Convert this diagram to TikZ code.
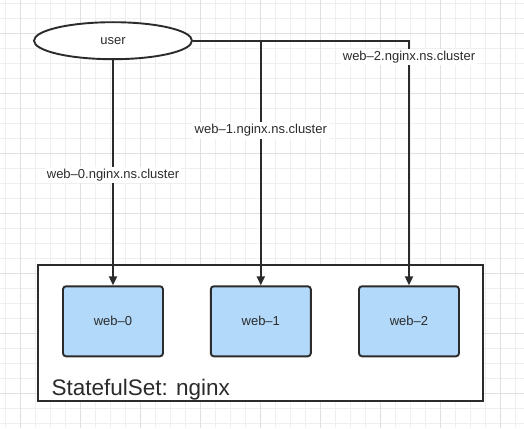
\documentclass[tikz,border=0pt]{standalone}
\usepackage{fontspec}
\setmainfont{Liberation Sans}
\usetikzlibrary{arrows.meta,shapes.geometric}
\definecolor{ink}{HTML}{2B2B2B}
\definecolor{gridminor}{HTML}{EFEFEF}
\definecolor{gridmajor}{HTML}{E0E0E0}
\definecolor{podblue}{HTML}{B2D9F9}
\tikzset{
  podbox/.style={draw=ink, line width=1.9pt, fill=podblue, rounded corners=3pt,
    minimum width=100pt, minimum height=70pt, inner sep=0pt, text=ink,
    font=\fontsize{13}{15}\selectfont},
  conn/.style={draw=ink, line width=1.9pt},
  arr/.style={conn, -{Triangle[length=9pt,width=8pt]}},
  dnslabel/.style={fill=white, text=ink, inner sep=2pt, font=\fontsize{13}{15}\selectfont},
}
\begin{document}
\begin{tikzpicture}[x=1pt,y=-1pt]
\useasboundingbox (0,0) rectangle (524,428);
% grid
\foreach \i in {0,...,35} {
  \draw[gridminor, line width=0.8pt] ({5.7+15*\i},0) -- ({5.7+15*\i},428);
}
\foreach \j in {0,...,28} {
  \draw[gridminor, line width=0.8pt] (0,{3.3+15*\j}) -- (524,{3.3+15*\j});
}
\foreach \i in {0,...,8} {
  \draw[gridmajor, line width=0.9pt] ({20.7+60*\i},0) -- ({20.7+60*\i},428);
}
\foreach \j in {0,...,6} {
  \draw[gridmajor, line width=0.9pt] (0,{33.3+60*\j}) -- (524,{33.3+60*\j});
}
% statefulset container
\node[draw=ink, line width=1.9pt, fill=white, minimum width=445pt, minimum height=136pt, inner sep=0pt] (sts) at (260.8,333) {};
\node[anchor=base west, text=ink, font=\fontsize{22.5}{26}\selectfont] (stslabel) at (48,395.5) {StatefulSet: nginx};
% pods
\node[podbox] (web0) at (113,321.3) {web–0};
\node[podbox] (web1) at (260.8,321.3) {web–1};
\node[podbox] (web2) at (409,321.3) {web–2};
% user
\node[draw=ink, line width=1.9pt, fill=white, ellipse, minimum width=158pt, minimum height=37pt, inner sep=0pt, text=ink, font=\fontsize{13}{15}\selectfont] (user) at (113,40.7) {user};
% connectors
\draw[arr] (user.south) -- (web0.north);
\draw[arr] (user.east) -| (web2.north);
\coordinate (branch) at (user.east -| web1.north);
\draw[arr] (branch) -- (web1.north);
% labels
\node[dnslabel] (l0) at (113,175) {web–0.nginx.ns.cluster};
\node[dnslabel] (l1) at (260.8,130.5) {web–1.nginx.ns.cluster};
\node[dnslabel] (l2) at (409,57) {web–2.nginx.ns.cluster};
\end{tikzpicture}
\end{document}
